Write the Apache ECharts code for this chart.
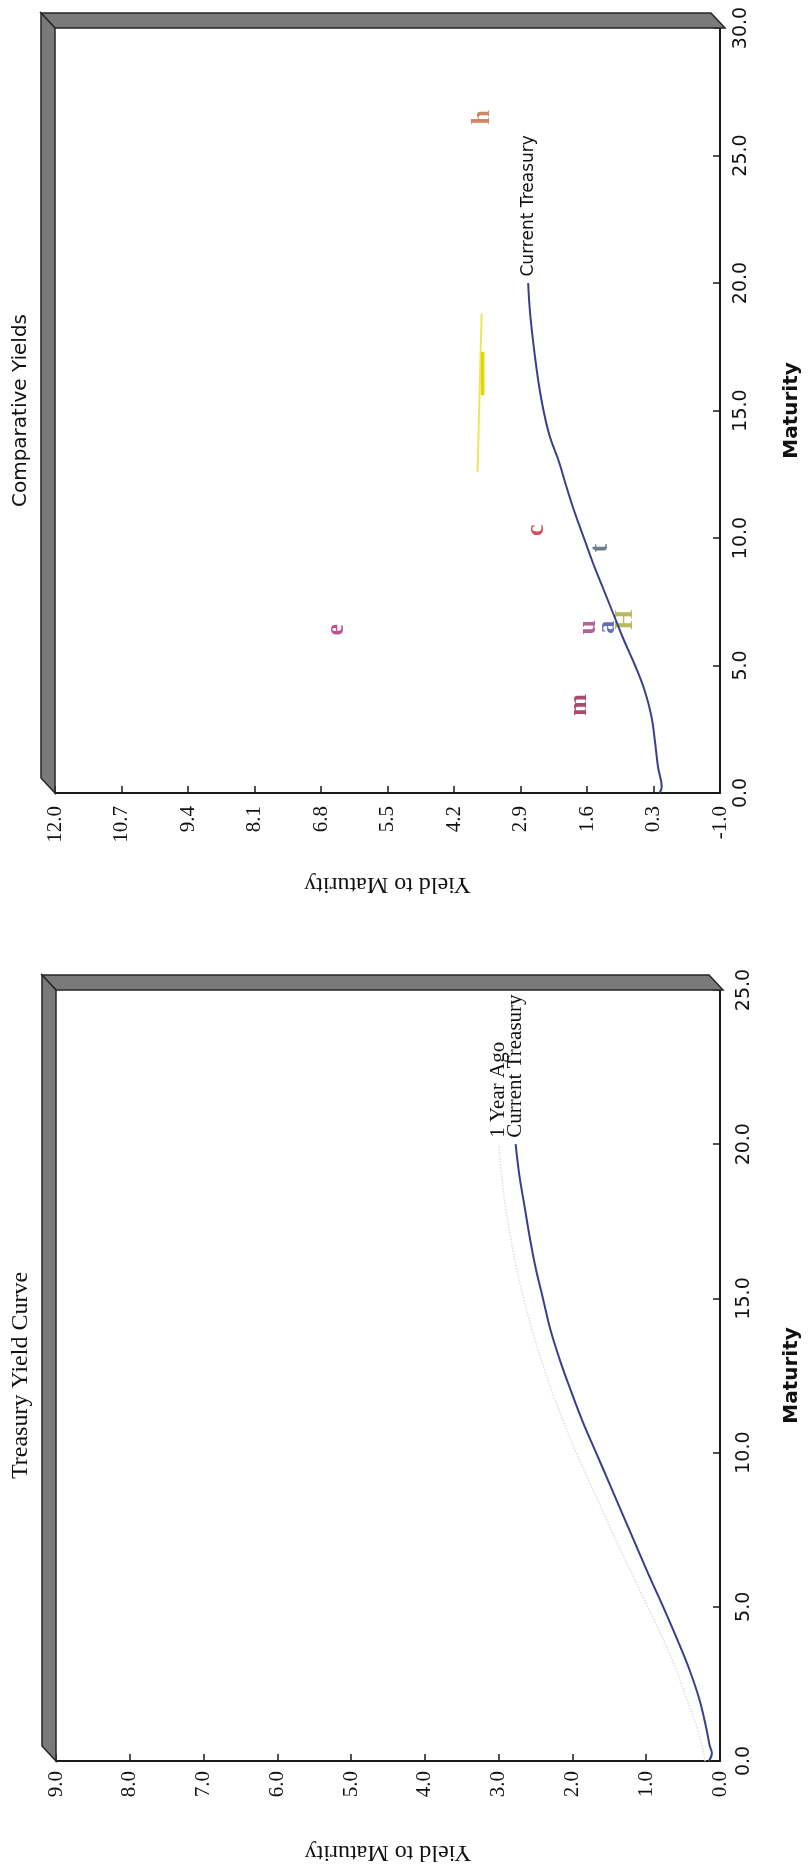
<!DOCTYPE html>
<html>
<head>
<meta charset="utf-8">
<script src="https://cdn.jsdelivr.net/npm/echarts@6/dist/echarts.min.js"></script>
<style>
html,body{margin:0;padding:0;background:#ffffff;}
#chart{width:810px;height:1868px;}
</style>
</head>
<body>
<div id="chart"></div>
<script>
// ---------------- Chart 1: Comparative Yields ----------------
const c1YieldTicks = [-1.0, 0.3, 1.6, 2.9, 4.2, 5.5, 6.8, 8.1, 9.4, 10.7, 12.0];
const c1MaturityTicks = [0, 5, 10, 15, 20, 25, 30];
const c1CurveMaturity = [0, 0.25, 1, 2, 3, 4, 5, 6, 7, 8, 9, 10, 11, 12, 13, 14, 15, 16, 17, 18, 19, 20];
const c1CurveYield    = [0.18, 0.14, 0.21, 0.27, 0.34, 0.47, 0.66, 0.88, 1.08, 1.28, 1.48, 1.66, 1.84, 2.0, 2.15, 2.33, 2.45, 2.54, 2.61, 2.67, 2.72, 2.75];
const c1LetterNames    = ['h', 'e', 'c', 'm', 'u', 'a', 'H', 't'];
const c1LetterYield    = [3.64, 6.51, 2.6, 1.76, 1.58, 1.2, 0.85, 1.35];
const c1LetterMaturity = [26.5, 6.4, 10.3, 3.45, 6.5, 6.5, 6.8, 9.6];
const c1StreakMaturity = [12.6, 18.8];
const c1StreakYield    = [3.74, 3.66];
const c1StreakCoreMaturity = [15.6, 17.3];
const c1StreakCoreYield    = [3.64, 3.64];

// ---------------- Chart 2: Treasury Yield Curve ----------------
const c2YieldTicks = [0, 1, 2, 3, 4, 5, 6, 7, 8, 9];
const c2MaturityTicks = [0, 5, 10, 15, 20, 25];
const c2CurrentMaturity = [0, 0.25, 0.5, 1, 2, 3, 4, 5, 6, 7, 8, 9, 10, 11, 12, 13, 14, 15, 16, 17, 18, 19, 20];
const c2CurrentYield    = [0.15, 0.11, 0.14, 0.18, 0.28, 0.42, 0.59, 0.77, 0.96, 1.14, 1.32, 1.5, 1.68, 1.86, 2.02, 2.17, 2.3, 2.4, 2.5, 2.58, 2.65, 2.72, 2.77];
const c2AgoMaturity = [0, 1, 2, 3, 4, 5, 6, 7, 8, 9, 10, 11, 12, 13, 14, 15, 16, 17, 18, 19, 20];
const c2AgoYield    = [0.2, 0.3, 0.45, 0.6, 0.78, 0.98, 1.18, 1.38, 1.57, 1.76, 1.95, 2.12, 2.28, 2.42, 2.55, 2.66, 2.76, 2.84, 2.91, 2.96, 3.0];

// ---------------- styles / layout ----------------
const letterColors = { h: '#c4663e', e: '#b3226e', c: '#c8203c', m: '#9c1a44', u: '#a23a7c', a: '#3a4aa2', H: '#a8a838', t: '#465a72' };
const G0 = { left: 55, top: 28, width: 670, height: 765 };
const G1 = { left: 56, top: 990, width: 667, height: 771 };
const DEPTH_X = 14, DEPTH_Y = 15;
const SANS = '"DejaVu Sans", sans-serif';
const SERIF = '"Liberation Serif", "DejaVu Serif", serif';
const NAVY = '#3d3d8e';
const CLEAR = 'rgba(0,0,0,0)';

function range(ticks) {
  return { min: ticks[0], max: ticks[ticks.length - 1], interval: +(ticks[1] - ticks[0]).toFixed(4) };
}
function pairs(xs, ys) { return xs.map((m, i) => [ys[i], m]); }

function withEndLabel(data, text, font, size) {
  const last = data.length - 1;
  return data.map((v, i) => i === last ? {
    value: v,
    label: {
      show: true, formatter: text, position: 'top', distance: 6, rotate: 90,
      align: 'left', verticalAlign: 'middle', fontFamily: font, fontSize: size, color: '#111'
    }
  } : { value: v });
}

function yieldAxis(gridIndex, ticks, margin) {
  const r = range(ticks);
  return {
    type: 'value', gridIndex, position: 'bottom', inverse: true,
    min: r.min, max: r.max, interval: r.interval,
    name: 'Yield to Maturity', nameLocation: 'middle', nameGap: 79, nameRotate: 180,
    nameTextStyle: { fontFamily: SERIF, fontSize: 24, color: '#111' },
    axisLine: { show: true, onZero: false, lineStyle: { color: '#1a1a1a', width: 2 } },
    axisTick: { show: true, inside: true, length: 7, lineStyle: { color: '#1a1a1a', width: 1.5 } },
    axisLabel: { rotate: 90, margin, fontFamily: SERIF, fontSize: 21, color: '#111', formatter: v => v.toFixed(1) },
    splitLine: { show: false }
  };
}
function maturityAxis(gridIndex, ticks, margin) {
  const r = range(ticks);
  return {
    type: 'value', gridIndex, position: 'right',
    min: r.min, max: r.max, interval: r.interval,
    name: 'Maturity', nameLocation: 'middle', nameGap: 62, nameRotate: 90,
    nameTextStyle: { fontFamily: SANS, fontSize: 20, fontWeight: 'bold', color: '#111' },
    axisLine: { show: true, onZero: false, lineStyle: { color: '#1a1a1a', width: 2 } },
    axisTick: { show: true, inside: true, length: 7, lineStyle: { color: '#1a1a1a', width: 1.5 } },
    axisLabel: { rotate: 90, margin, fontFamily: SANS, fontSize: 19, color: '#111', formatter: v => v.toFixed(1) },
    splitLine: { show: false }
  };
}

function walls(g) {
  const L = g.left, T = g.top, R = g.left + g.width, B = g.top + g.height;
  const style = { fill: '#7a7a7a', stroke: '#262626', lineWidth: 1.5 };
  return [
    { type: 'polygon', z: 1, shape: { points: [[L - DEPTH_X, T - DEPTH_Y], [R - DEPTH_X, T - DEPTH_Y], [R, T], [L, T]] }, style },
    { type: 'polygon', z: 1, shape: { points: [[L - DEPTH_X, T - DEPTH_Y], [L, T], [L, B], [L - DEPTH_X, B - DEPTH_Y]] }, style }
  ];
}
function title(g, text, font) {
  return {
    type: 'text', z: 2, x: 21, y: g.top + g.height / 2, rotation: Math.PI / 2,
    style: { text, font, fill: '#111', align: 'center', verticalAlign: 'middle', textAlign: 'center', textVerticalAlign: 'middle' }
  };
}

const letterData = c1LetterNames.map((n, i) => ({
  name: n,
  value: [c1LetterYield[i], c1LetterMaturity[i]],
  label: { color: letterColors[n] }
}));

function lineSeries(name, gx, data, lineStyle) {
  return {
    name, type: 'line', xAxisIndex: gx, yAxisIndex: gx, data,
    symbol: 'circle', symbolSize: 1, showSymbol: true, showAllSymbol: true,
    itemStyle: { color: CLEAR, borderWidth: 0 },
    smooth: 0.4, lineStyle, z: 3
  };
}

const chart = echarts.init(document.getElementById('chart'), null, { renderer: 'canvas' });
chart.setOption({
  backgroundColor: '#ffffff',
  animation: false,
  grid: [
    { left: G0.left, top: G0.top, width: G0.width, height: G0.height, containLabel: false },
    { left: G1.left, top: G1.top, width: G1.width, height: G1.height, containLabel: false }
  ],
  xAxis: [yieldAxis(0, c1YieldTicks, 13), yieldAxis(1, c2YieldTicks, 10)],
  yAxis: [maturityAxis(0, c1MaturityTicks, 12), maturityAxis(1, c2MaturityTicks, 15)],
  graphic: [
    ...walls(G0), ...walls(G1),
    title(G0, 'Comparative Yields', '20px "DejaVu Sans"'),
    title(G1, 'Treasury Yield Curve', '24px "Liberation Serif"')
  ],
  series: [
    {
      name: 'Yellow band', type: 'line', xAxisIndex: 0, yAxisIndex: 0,
      data: pairs(c1StreakMaturity, c1StreakYield), symbol: 'none',
      lineStyle: { color: '#ece75a', width: 2 }, silent: true
    },
    {
      name: 'Yellow band core', type: 'line', xAxisIndex: 0, yAxisIndex: 0,
      data: pairs(c1StreakCoreMaturity, c1StreakCoreYield), symbol: 'none',
      lineStyle: { color: '#e4d600', width: 3.5 }, silent: true
    },
    lineSeries('Current Treasury', 0,
      withEndLabel(pairs(c1CurveMaturity, c1CurveYield), 'Current Treasury', SANS, 17),
      { color: NAVY, width: 2 }),
    {
      name: 'Sectors', type: 'scatter', xAxisIndex: 0, yAxisIndex: 0,
      data: letterData, symbolSize: 1, itemStyle: { color: CLEAR },
      label: { show: true, position: 'inside', rotate: 90, formatter: p => p.name,
               fontFamily: SERIF, fontWeight: 'bold', fontSize: 26 }
    },
    lineSeries('1 Year Ago', 1,
      withEndLabel(pairs(c2AgoMaturity, c2AgoYield), '1 Year Ago', SERIF, 21),
      { color: '#dedede', width: 1.5, type: 'dotted' }),
    lineSeries('Current Treasury (2)', 1,
      withEndLabel(pairs(c2CurrentMaturity, c2CurrentYield), 'Current Treasury', SERIF, 21),
      { color: NAVY, width: 2 })
  ]
});
</script>
</body>
</html>
